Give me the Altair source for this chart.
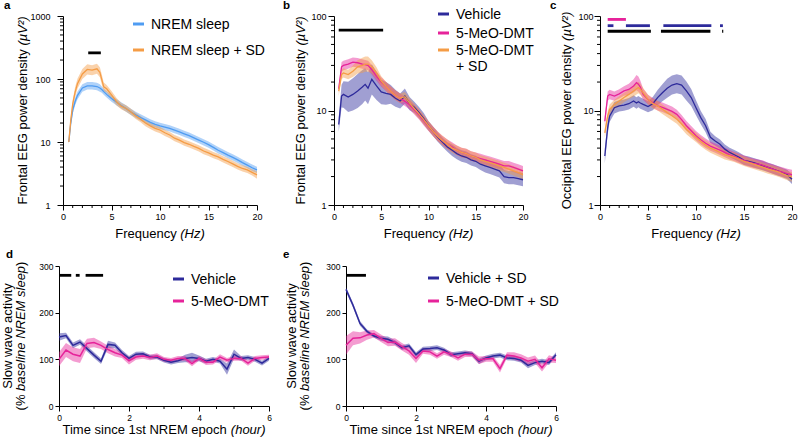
import altair as alt
import pandas as pd

FONT = "Liberation Sans"

# ---------------- colours ----------------
C_NREM = "#4f9cf2"
C_ORANGE = "#f59c45"
C_VEH = "#2d2a9b"
C_DMT = "#e6239a"

# ---------------- panel a : frontal, NREM vs NREM + SD ----------------
a_freq = [0.6, 0.8, 1.0, 1.25, 1.5, 2.0, 2.5, 3.0, 3.5, 3.8, 4.0, 4.2, 4.5, 5.0, 5.5,
          6.0, 6.5, 7.0, 7.5, 8.0, 8.5, 9.0, 9.5, 10.0, 10.5, 11.0, 11.5, 12.0, 12.5, 13.0,
          13.5, 14.0, 14.5, 15.0, 15.5, 16.0, 16.5, 17.0, 17.5, 18.0, 18.5, 19.0, 19.5, 20.0]
a_nrem = [10, 20, 32, 44, 55, 72, 78, 78, 76, 72, 68, 63, 57, 49, 43,
          38, 34, 30, 27, 24.5, 22.5, 20.5, 19, 18, 17.2, 16.4, 15.4, 14.5, 13.5, 12.6,
          11.6, 10.7, 9.9, 9.1, 8.2, 7.4, 6.8, 6.2, 5.7, 5.2, 4.7, 4.3, 3.9, 3.6]
a_nrem_err = [0.03, 0.05, 0.06, 0.06, 0.06, 0.06, 0.06, 0.06, 0.06, 0.06, 0.05, 0.05, 0.05, 0.05, 0.05,
              0.05, 0.05, 0.05, 0.05, 0.05, 0.05, 0.05, 0.05, 0.05, 0.05, 0.05, 0.05, 0.05, 0.05, 0.05,
              0.05, 0.05, 0.05, 0.05, 0.05, 0.05, 0.05, 0.05, 0.05, 0.05, 0.05, 0.05, 0.05, 0.05]
a_sd = [10, 22, 40, 62, 85, 120, 142, 138, 145, 128, 98, 75, 70, 56, 44,
        37, 34, 30, 26, 23, 20, 18, 16.5, 15.5, 14, 12.9, 11.5, 10.7, 9.8, 9.2,
        8.5, 7.9, 7.2, 6.7, 6.2, 5.8, 5.3, 4.9, 4.5, 4.1, 3.8, 3.6, 3.3, 3.0]
a_sd_err = [0.04, 0.06, 0.07, 0.08, 0.08, 0.08, 0.08, 0.08, 0.08, 0.08, 0.08, 0.07, 0.06, 0.06, 0.06,
            0.05, 0.05, 0.05, 0.05, 0.05, 0.05, 0.05, 0.05, 0.05, 0.05, 0.05, 0.05, 0.05, 0.05, 0.05,
            0.05, 0.05, 0.05, 0.05, 0.05, 0.05, 0.05, 0.05, 0.05, 0.05, 0.05, 0.05, 0.05, 0.06]
a_names = ["NREM sleep", "NREM sleep + SD"]
a_sig_start, a_sig_end, a_sig_level = [2.6], [3.9], [260]

# ---------------- panel b : frontal, drugs ----------------
b_freq = [0.5, 0.8, 1.0, 1.5, 2.0, 2.5, 3.0, 3.3, 3.6, 4.0,
          4.5, 5.0, 5.5, 6.0, 6.5, 7.0, 7.5, 8.0, 8.5, 9.0, 9.5, 10.0, 10.5, 11.0, 11.5, 12.0,
          12.5, 13.0, 13.5, 14.0, 14.5, 15.0, 15.5, 16.0, 16.5, 17.0, 17.5, 18.0, 18.5, 19.0, 19.5, 20.0]
b_veh = [7.1, 14.2, 14.8, 13.9, 14.8, 16.1, 17.7, 18.9, 17.2, 21.4,
         18.2, 15.7, 15.2, 14.8, 13.5, 12.6, 14.2, 11.8, 10.8, 9.5, 8.2, 6.9, 6.0, 5.2, 4.6, 4.1,
         3.8, 3.5, 3.3, 3.2, 3.0, 2.9, 2.7, 2.6, 2.5, 2.4, 2.3, 2.0, 1.95, 1.95, 1.9, 1.85]
b_veh_err = [0.08, 0.12, 0.14, 0.16, 0.17, 0.18, 0.18, 0.17, 0.17, 0.16,
             0.15, 0.13, 0.12, 0.10, 0.09, 0.08, 0.08, 0.07, 0.06, 0.06, 0.06, 0.05, 0.05, 0.05, 0.05, 0.05,
             0.06, 0.06, 0.06, 0.06, 0.06, 0.06, 0.06, 0.07, 0.07, 0.07, 0.07, 0.07, 0.07, 0.07, 0.07, 0.07]
b_dmt = [17, 29, 30, 31, 32.5, 32, 31, 30.5, 30, 27,
         23, 20, 18, 16, 14.5, 13.5, 12.5, 11.5, 10.2, 9.0, 7.8, 6.8, 6.0, 5.3, 4.8, 4.4,
         4.1, 3.8, 3.6, 3.5, 3.3, 3.2, 3.1, 3.0, 2.9, 2.8, 2.7, 2.6, 2.6, 2.5, 2.4, 2.3]
b_dmt_err = [0.04, 0.05, 0.05, 0.05, 0.05, 0.05, 0.05, 0.05, 0.05, 0.05,
             0.05, 0.05, 0.05, 0.05, 0.05, 0.05, 0.05, 0.05, 0.05, 0.05, 0.05, 0.05, 0.05, 0.05, 0.05, 0.05,
             0.05, 0.05, 0.05, 0.05, 0.05, 0.05, 0.05, 0.05, 0.05, 0.05, 0.05, 0.05, 0.05, 0.05, 0.05, 0.05]
b_sd = [16, 24, 25, 24, 26, 29, 30, 31, 31, 29,
        25, 20.5, 18, 16, 14.5, 13.5, 14, 12, 10.5, 9.2, 8.0, 6.9, 6.0, 5.3, 4.8, 4.4,
        4.0, 3.8, 3.6, 3.5, 3.3, 3.2, 3.0, 2.9, 2.8, 2.7, 2.6, 2.5, 2.4, 2.3, 2.2, 2.1]
b_sd_err = [0.05, 0.05, 0.05, 0.05, 0.06, 0.07, 0.08, 0.08, 0.08, 0.07,
            0.06, 0.05, 0.05, 0.05, 0.05, 0.05, 0.05, 0.05, 0.05, 0.05, 0.05, 0.05, 0.05, 0.05, 0.05, 0.05,
            0.05, 0.05, 0.05, 0.05, 0.05, 0.05, 0.05, 0.05, 0.05, 0.05, 0.05, 0.05, 0.05, 0.05, 0.05, 0.05]
drug_names = ["Vehicle", "5-MeO-DMT", "5-MeO-DMT + SD"]
b_sig_start, b_sig_end, b_sig_level = [0.5], [5.2], [71]

# ---------------- panel c : occipital, drugs ----------------
c_freq = [0.5, 0.8, 1.0, 1.5, 2.0, 2.5, 3.0, 3.5, 3.8, 4.0, 4.2,
          4.5, 5.0, 5.5, 6.0, 6.5, 7.0, 7.5, 8.0, 8.5, 9.0, 9.5, 10.0, 10.5, 11.0, 11.5, 12.0,
          12.5, 13.0, 13.5, 14.0, 14.5, 15.0, 15.5, 16.0, 16.5, 17.0, 17.5, 18.0, 18.5, 19.0, 19.5, 20.0]
c_veh = [3.3, 6.6, 8.7, 10.7, 11.2, 11.4, 11.8, 12.6, 12.0, 12.4, 12.0,
         11.6, 11.0, 11.8, 13.7, 15.4, 17.2, 18.6, 19.2, 18.6, 16.1, 13.7, 10.7, 8.4, 6.9, 5.2, 4.75,
         4.4, 3.9, 3.6, 3.4, 3.2, 2.97, 2.9, 2.8, 2.7, 2.6, 2.5, 2.4, 2.3, 2.2, 2.1, 1.87]
c_veh_err = [0.08, 0.07, 0.06, 0.06, 0.06, 0.06, 0.06, 0.06, 0.06, 0.06, 0.06,
             0.06, 0.06, 0.07, 0.08, 0.09, 0.10, 0.10, 0.10, 0.10, 0.10, 0.09, 0.08, 0.07, 0.07, 0.06, 0.05,
             0.05, 0.05, 0.05, 0.05, 0.05, 0.05, 0.05, 0.05, 0.05, 0.05, 0.05, 0.05, 0.05, 0.05, 0.05, 0.05]
c_dmt = [7.7, 14.2, 14.8, 14.2, 15.0, 16.1, 16.7, 18.2, 19.7, 19.0, 17.7,
         14.8, 13.1, 12.1, 11.2, 10.8, 10.3, 9.8, 9.1, 8.0, 6.9, 6.1, 5.4, 4.9, 4.5, 4.2, 4.0,
         3.8, 3.6, 3.4, 3.25, 3.1, 2.97, 2.85, 2.76, 2.7, 2.63, 2.5, 2.4, 2.3, 2.23, 2.15, 2.1]
c_dmt_err = [0.05, 0.05, 0.05, 0.05, 0.05, 0.05, 0.06, 0.07, 0.08, 0.08, 0.07,
             0.06, 0.05, 0.05, 0.05, 0.05, 0.05, 0.05, 0.05, 0.05, 0.05, 0.05, 0.05, 0.05, 0.05, 0.05, 0.05,
             0.05, 0.05, 0.05, 0.05, 0.05, 0.05, 0.05, 0.05, 0.05, 0.05, 0.05, 0.05, 0.05, 0.05, 0.05, 0.05]
c_sd = [5.8, 8.7, 10.3, 11.6, 12.6, 13.7, 14.8, 16.1, 17.0, 17.5, 16.8,
        15.4, 13.1, 11.8, 11.2, 10.3, 9.5, 8.8, 8.1, 7.2, 6.3, 5.7, 5.2, 4.7, 4.3, 4.0, 3.8,
        3.6, 3.4, 3.3, 3.2, 3.05, 2.9, 2.8, 2.7, 2.6, 2.5, 2.4, 2.33, 2.25, 2.15, 2.05, 1.98]
c_sd_err = [0.05, 0.05, 0.05, 0.05, 0.05, 0.05, 0.05, 0.06, 0.06, 0.06, 0.06,
            0.05, 0.05, 0.05, 0.05, 0.05, 0.05, 0.05, 0.05, 0.05, 0.05, 0.05, 0.05, 0.05, 0.05, 0.05, 0.05,
            0.05, 0.05, 0.05, 0.05, 0.05, 0.05, 0.05, 0.05, 0.05, 0.05, 0.05, 0.05, 0.05, 0.05, 0.05, 0.05]
c_sig_series = ["5-MeO-DMT", "Vehicle", "Vehicle", "Vehicle", "Vehicle"]
c_sig_start = [0.8, 0.8, 2.7, 6.6, 12.5]
c_sig_end = [2.7, 1.4, 5.2, 11.6, 12.8]
c_sig_level = [92, 79, 79, 79, 79]
c_black_start, c_black_end, c_black_level = [0.8, 6.35, 12.72], [5.3, 11.5, 12.84], [69, 69, 69]

# ---------------- panels d, e : slow wave activity ----------------
hours = [0.0, 0.2, 0.4, 0.6, 0.8, 1.0, 1.2, 1.4, 1.6, 1.8, 2.0, 2.2, 2.4, 2.6, 2.8, 3.0,
         3.2, 3.4, 3.6, 3.8, 4.0, 4.2, 4.4, 4.6, 4.8, 5.0, 5.2, 5.4, 5.6, 5.8, 6.0]
d_veh = [148, 151, 130, 137, 123, 109, 96, 132, 130, 114, 102, 111, 112, 105, 105, 98,
         94, 97, 102, 104, 102, 96, 100, 96, 79, 111, 102, 104, 100, 92, 102]
d_veh_err = [8, 6, 6, 6, 6, 6, 6, 8, 6, 6, 5, 5, 5, 5, 5, 5,
             5, 5, 8, 10, 6, 5, 5, 5, 12, 10, 5, 5, 5, 5, 5]
d_dmt = [100, 120, 111, 107, 134, 136, 130, 121, 114, 109, 97, 105, 107, 104, 107, 100,
         98, 102, 102, 91, 102, 94, 94, 105, 98, 102, 102, 92, 102, 104, 105]
d_dmt_err = [15, 15, 15, 15, 10, 10, 8, 8, 8, 6, 8, 6, 6, 6, 6, 5,
             5, 5, 5, 6, 5, 6, 5, 6, 5, 5, 5, 6, 5, 5, 5]
d_names = ["Vehicle", "5-MeO-DMT"]
d_sig_start, d_sig_end, d_sig_level = [0.0, 0.48, 0.76], [0.35, 0.59, 1.26], [280, 280, 280]

e_veh = [250, 216, 177, 160, 150, 145, 143, 136, 125, 129, 110, 122, 123, 125, 120, 110,
         112, 114, 112, 96, 103, 107, 109, 103, 102, 98, 87, 93, 96, 93, 110]
e_veh_err = [5, 5, 5, 4, 4, 5, 6, 5, 5, 5, 5, 5, 5, 5, 5, 5,
             5, 5, 5, 6, 5, 5, 5, 5, 5, 5, 6, 5, 5, 5, 5]
e_dmt = [130, 145, 146, 152, 155, 145, 136, 137, 127, 118, 102, 118, 116, 107, 116, 111,
         103, 111, 111, 98, 101, 101, 80, 109, 107, 103, 96, 100, 82, 101, 98]
e_dmt_err = [20, 15, 12, 10, 8, 8, 8, 8, 8, 8, 10, 6, 6, 6, 6, 6,
             6, 6, 6, 8, 6, 6, 8, 6, 8, 8, 8, 8, 8, 8, 6]
e_names = ["Vehicle + SD", "5-MeO-DMT + SD"]
e_sig_start, e_sig_end, e_sig_level = [0.0], [0.57], [280]

# ---------------- text helpers ----------------
AW = {c: 556 for c in "0123456789"}
AW.update({' ': 278, '(': 333, ')': 333, '%': 889, '+': 584, '-': 333, 'µ': 576, '²': 333,
           'A': 667, 'B': 667, 'C': 722, 'D': 722, 'E': 667, 'F': 611, 'G': 778, 'H': 722,
           'I': 278, 'M': 833, 'N': 722, 'O': 778, 'R': 722, 'S': 667, 'T': 611, 'V': 667,
           'a': 556, 'b': 556, 'c': 500, 'd': 556, 'e': 556, 'f': 278, 'g': 556, 'h': 556,
           'i': 222, 'l': 222, 'm': 833, 'n': 556, 'o': 556, 'p': 556, 'q': 556, 'r': 333,
           's': 500, 't': 278, 'u': 556, 'v': 500, 'w': 722, 'y': 500, 'z': 500})


def tw(s, size):
    return sum(AW.get(ch, 556) for ch in s) * size / 1000.0


def text_mark(txt, x, y, angle=0, style="normal", weight="normal", size=13,
              align="left", baseline="alphabetic"):
    return alt.Chart(pd.DataFrame({"label": [txt]})).mark_text(
        align=align, baseline=baseline, angle=angle, font=FONT, fontSize=size,
        fontStyle=style, fontWeight=weight, color="black"
    ).encode(x=alt.value(x), y=alt.value(y), text="label:N")


def title_h(parts, cx, y, size=13):
    total = sum(tw(t, size) for t, _ in parts)
    pos = cx - total / 2
    out = []
    for t, st in parts:
        lead = tw(t[:len(t) - len(t.lstrip())], size)
        out.append(text_mark(t.strip(), pos + lead, y, style=st, size=size))
        pos += tw(t, size)
    return out


def title_v(parts, x, cy, size=13):
    total = sum(tw(t, size) for t, _ in parts)
    pos = cy + total / 2
    out = []
    for t, st in parts:
        lead = tw(t[:len(t) - len(t.lstrip())], size)
        out.append(text_mark(t.strip(), x, pos - lead, angle=270, style=st, size=size))
        pos -= tw(t, size)
    return out


def legend_layers(names, colors, x, row_y, sym_len=11, gap=7, size=14, split=None):
    """Hand-drawn legend: a short coloured stroke and the series name for each row."""
    out = []
    for i, (name, col) in enumerate(zip(names, colors)):
        y = row_y[i]
        out.append(alt.Chart(pd.DataFrame({"series": [name]})).mark_rule(
            color=col, strokeWidth=3).encode(
            x=alt.value(x), x2=alt.value(x + sym_len), y=alt.value(y)))
        lines = [name]
        if split and split in name:
            head, tail = name.split(split, 1)
            lines = [head, split.strip() + " " + tail]
        for j, ln in enumerate(lines):
            out.append(text_mark(ln, x + sym_len + gap, y + 5 + j * 16, size=size))
    return out


def anchor(x, y):
    """Invisible point that pins the layout box of a row."""
    return alt.Chart(pd.DataFrame({"k": [0]})).mark_rule(opacity=0, strokeWidth=0).encode(
        x=alt.value(x), x2=alt.value(x), y=alt.value(y), y2=alt.value(y))


def rules(start, end, level, x_scale, y_scale):
    df = pd.DataFrame({"start": start, "end": end, "level": level})
    return alt.Chart(df).mark_rule(strokeWidth=2.8, strokeCap="butt", color="black").encode(
        x=alt.X("start:Q", scale=x_scale), x2="end:Q", y=alt.Y("level:Q", scale=y_scale))


def minor_x_ticks(vals, x_scale, height, length=3):
    return alt.Chart(pd.DataFrame({"tick": vals})).mark_rule(color="black", strokeWidth=1).encode(
        x=alt.X("tick:Q", scale=x_scale), y=alt.value(height), y2=alt.value(height + length))


def minor_y_ticks(vals, y_scale, x0, length=3):
    return alt.Chart(pd.DataFrame({"tick": vals})).mark_rule(color="black", strokeWidth=1).encode(
        y=alt.Y("tick:Q", scale=y_scale), x=alt.value(x0), x2=alt.value(x0 - length))


# ---------------- spectrum panel builder ----------------
def spectrum_panel(freq, names, colors, values, errors, ymax, width, height,
                   label_pad, legend, letter, letter_xy, ytitle, ytitle_x,
                   black_sig, colored_sig=None, extra=(), x0=0):
    """x0: inset of the plot area inside its layout cell (pixels)."""
    rows = []
    for name, vals, errs in zip(names, values, errors):
        for f, v, e in zip(freq, vals, errs):
            rows.append({"freq": f, "series": name, "power": v,
                         "lo": v / 10 ** e, "hi": v * 10 ** e})
    df = pd.DataFrame(rows)
    cscale = alt.Scale(domain=names, range=colors)
    xscale = alt.Scale(domain=[0, 20], nice=False, range=[x0, x0 + width])
    yscale = alt.Scale(type="log", domain=[1, ymax], nice=False)
    decades = {1000: 3, 100: 2}[ymax]
    majors = [10 ** k for k in range(decades + 1)]
    minors = [m * 10 ** k for k in range(decades) for m in range(2, 10)]
    xaxis = alt.Axis(values=[0, 5, 10, 15, 20], format="d", title=None, labelFlush=False,
                     labelFontSize=9, labelPadding=2, tickSize=5)
    yaxis = alt.Axis(values=majors, format="d", title=None, labelFontSize=9,
                     labelPadding=label_pad, tickSize=6, offset=-x0)
    base = alt.Chart(df)
    band = base.mark_area(opacity=0.45).encode(
        x=alt.X("freq:Q", scale=xscale, axis=xaxis),
        y=alt.Y("lo:Q", scale=yscale, axis=yaxis), y2="hi:Q",
        fill=alt.Fill("series:N", scale=cscale, legend=None))
    line = base.mark_line(strokeWidth=1.3).encode(
        x=alt.X("freq:Q", scale=xscale), y=alt.Y("power:Q", scale=yscale),
        color=alt.Color("series:N", scale=cscale, legend=None))
    layers = [band, line,
              minor_x_ticks([v for v in range(21) if v % 5], xscale, height),
              minor_y_ticks(minors, yscale, x0)]
    if colored_sig is not None:
        s_series, s_start, s_end, s_level = colored_sig
        df_s = pd.DataFrame({"series": s_series, "start": s_start, "end": s_end, "level": s_level})
        layers.append(alt.Chart(df_s).mark_rule(strokeWidth=2.8, strokeCap="butt").encode(
            x=alt.X("start:Q", scale=xscale), x2="end:Q", y=alt.Y("level:Q", scale=yscale),
            color=alt.Color("series:N", scale=cscale, legend=None)))
    layers.append(rules(*black_sig, xscale, yscale))
    if legend is not None:
        leg = dict(legend)
        leg["x"] = leg["x"] + x0
        layers += legend_layers(names, colors, **leg)
    layers.append(text_mark(letter, x0 + letter_xy[0], letter_xy[1], weight="bold", size=11.5))
    layers += title_v(ytitle, x0 + ytitle_x, height / 2)
    layers += title_h([("Frequency ", "normal"), ("(Hz)", "italic")], x0 + width / 2, height + 33)
    layers += list(extra)
    return alt.layer(*layers).properties(width=x0 + width, height=height)


def swa_panel(names, colors, values, errors, width, height, legend, letter, letter_xy,
              title_x1, title_x2, black_sig, extra=()):
    rows = []
    for name, vals, errs in zip(names, values, errors):
        for t, v, e in zip(hours, vals, errs):
            rows.append({"hour": t, "series": name, "swa": v, "lo": v - e, "hi": v + e})
    df = pd.DataFrame(rows)
    cscale = alt.Scale(domain=names, range=colors)
    xscale = alt.Scale(domain=[0, 6], nice=False)
    yscale = alt.Scale(domain=[0, 300], nice=False)
    xaxis = alt.Axis(values=[0, 2, 4, 6], format="d", title=None, labelFlush=False,
                     labelFontSize=8.5, labelPadding=2, tickSize=5)
    yaxis = alt.Axis(values=list(range(0, 301, 50)), format="d", title=None, labelFontSize=8.5,
                     labelPadding=2, tickSize=4)
    base = alt.Chart(df)
    band = base.mark_area(opacity=0.45).encode(
        x=alt.X("hour:Q", scale=xscale, axis=xaxis),
        y=alt.Y("lo:Q", scale=yscale, axis=yaxis), y2="hi:Q",
        fill=alt.Fill("series:N", scale=cscale, legend=None))
    line = base.mark_line(strokeWidth=1.5).encode(
        x=alt.X("hour:Q", scale=xscale), y=alt.Y("swa:Q", scale=yscale),
        color=alt.Color("series:N", scale=cscale, legend=None))
    layers = [band, line,
              minor_x_ticks([0.5, 1.0, 1.5, 2.5, 3.0, 3.5, 4.5, 5.0, 5.5], xscale, height),
              rules(*black_sig, xscale, yscale),
              text_mark(letter, letter_xy[0], letter_xy[1], weight="bold", size=11.5)]
    layers += legend_layers(names, colors, **legend)
    layers += title_v([("Slow wave activity", "normal")], title_x1, height / 2)
    layers += title_v([("(% ", "normal"), ("baseline NREM sleep", "italic"), (")", "normal")],
                      title_x2, height / 2)
    layers += title_h([("Time since 1st NREM epoch ", "normal"), ("(hour)", "italic")],
                      width / 2, height + 28)
    layers += list(extra)
    return alt.layer(*layers).properties(width=width, height=height)


frontal_title = [("Frontal EEG power density ", "normal"), ("(µV²)", "italic")]
occipital_title = [("Occipital EEG power density ", "normal"), ("(µV²)", "italic")]

TOP_H = 189
panel_a = spectrum_panel(a_freq, a_names, [C_NREM, C_ORANGE], [a_nrem, a_sd], [a_nrem_err, a_sd_err],
                         1000, 194, TOP_H, 7, dict(x=70, row_y=[8, 34]), "a", (-59, -7),
                         frontal_title, -36, (a_sig_start, a_sig_end, a_sig_level),
                         extra=[anchor(0, TOP_H + 38)], x0=4)
panel_b = spectrum_panel(b_freq, drug_names, [C_VEH, C_DMT, C_ORANGE], [b_veh, b_dmt, b_sd],
                         [b_veh_err, b_dmt_err, b_sd_err], 100, 189, TOP_H, 2,
                         dict(x=104, row_y=[-2, 17, 34], split=" + "),
                         "b", (-51, -7), frontal_title, -29, (b_sig_start, b_sig_end, b_sig_level))
panel_c = spectrum_panel(c_freq, drug_names, [C_VEH, C_DMT, C_ORANGE], [c_veh, c_dmt, c_sd],
                         [c_veh_err, c_dmt_err, c_sd_err], 100, 192, TOP_H, 1, None,
                         "c", (-50, -7), occipital_title, -29,
                         (c_black_start, c_black_end, c_black_level),
                         (c_sig_series, c_sig_start, c_sig_end, c_sig_level))
panel_d = swa_panel(d_names, [C_VEH, C_DMT], [d_veh, d_dmt], [d_veh_err, d_dmt_err], 210, 140,
                    dict(x=114, row_y=[13, 35]), "d", (-53, -8), -47, -34,
                    (d_sig_start, d_sig_end, d_sig_level), extra=[anchor(0, -17)])
panel_e = swa_panel(e_names, [C_VEH, C_DMT], [e_veh, e_dmt], [e_veh_err, e_dmt_err], 210, 140,
                    dict(x=82, row_y=[12, 35]), "e", (-63, -8), -50, -37,
                    (e_sig_start, e_sig_end, e_sig_level))

indep = dict(color="independent", fill="independent", x="independent", y="independent")
row1 = alt.hconcat(panel_a, panel_b, panel_c, spacing=77, bounds="flush").resolve_scale(**indep)
row2 = alt.hconcat(panel_d, panel_e, spacing=77, bounds="flush").resolve_scale(**indep)

chart = alt.vconcat(row1, row2, spacing=6, bounds="full").resolve_scale(**indep).properties(
    autosize=alt.AutoSizeParams(type="none"),
    padding={"left": 59, "top": 16, "right": 739, "bottom": 427}, background="white"
).configure_view(stroke=None).configure_axis(
    labelFont=FONT, labelColor="black", domainColor="black", tickColor="black",
    domainWidth=1, tickWidth=1, grid=False
)

chart.save("out.html", embed_options={"renderer": "svg", "actions": False})
